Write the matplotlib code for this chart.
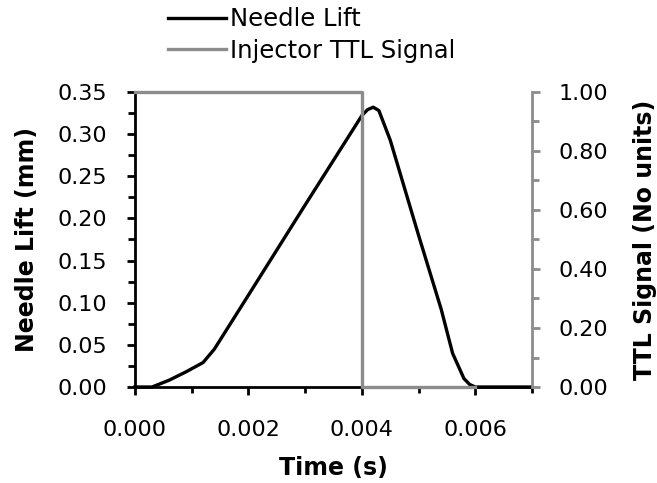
'''
Needle lift vs injector TTL signal
'''
import numpy as np
import matplotlib
matplotlib.use("Agg")
import matplotlib.pyplot as plt
from matplotlib.ticker import MultipleLocator, FormatStrFormatter

plt.rc('font', family='DejaVu Sans', size=16)

# needle lift trace (s, mm)
time_lift = [0.0, 0.0003, 0.0006, 0.0009, 0.0012, 0.0014, 0.0020, 0.0030,
             0.0040, 0.0041, 0.0042, 0.0043, 0.0045, 0.0050, 0.0054,
             0.0056, 0.0058, 0.0059, 0.0060, 0.0070]
needle_lift = [0.0, 0.0, 0.008, 0.018, 0.029, 0.045, 0.109, 0.216,
               0.322, 0.329, 0.332, 0.328, 0.293, 0.180, 0.092,
               0.040, 0.010, 0.003, 0.0, 0.0]

# injector TTL signal
time_ttl = [0.0, 0.004, 0.004, 0.006]
ttl_signal = [1.0, 1.0, 0.0, 0.0]

grey = '#8c8c8c'

fig = plt.figure(figsize=(6.57, 4.83), dpi=100)
ax = fig.add_axes([135/657, 1-387/483, 397/657, 295/483])
ax2 = ax.twinx()

l1, = ax.plot(time_lift, needle_lift, color='black', lw=2.4, clip_on=False,
              label='Needle Lift')
l2, = ax2.plot(time_ttl, ttl_signal, color=grey, lw=2.4, clip_on=False,
               label='Injector TTL Signal')

ax.set_xlim(0, 0.007)
ax.set_ylim(0, 0.35)
ax2.set_ylim(0, 1.0)

ax.xaxis.set_major_locator(MultipleLocator(0.002))
ax.xaxis.set_minor_locator(MultipleLocator(0.001))
ax.xaxis.set_major_formatter(FormatStrFormatter('%.3f'))
ax.yaxis.set_major_locator(MultipleLocator(0.05))
ax.yaxis.set_minor_locator(MultipleLocator(0.025))
ax.yaxis.set_major_formatter(FormatStrFormatter('%.2f'))
ax2.yaxis.set_major_locator(MultipleLocator(0.2))
ax2.yaxis.set_minor_locator(MultipleLocator(0.1))
ax2.yaxis.set_major_formatter(FormatStrFormatter('%.2f'))

for s in ['top', 'right']:
    ax.spines[s].set_visible(False)
for s in ['top', 'left', 'bottom']:
    ax2.spines[s].set_visible(False)
ax.spines['left'].set_linewidth(2.0)
ax.spines['bottom'].set_linewidth(2.0)
ax2.spines['right'].set_linewidth(2.0)
ax2.spines['right'].set_color(grey)

ax.tick_params(axis='x', which='major', direction='out', length=6, width=2, pad=18)
ax.tick_params(axis='x', which='minor', direction='out', length=4, width=2)
ax.tick_params(axis='y', which='major', direction='out', length=6, width=2, pad=14)
ax.tick_params(axis='y', which='minor', direction='out', length=5, width=2)
ax2.tick_params(axis='y', which='major', direction='out', length=6, width=2,
                pad=13, color=grey)
ax2.tick_params(axis='y', which='minor', direction='out', length=5, width=2,
                color=grey)

ax.set_xlabel('Time (s)', fontweight='bold', fontsize=17)
ax.set_ylabel('Needle Lift (mm)', fontweight='bold', fontsize=17)
ax2.set_ylabel('TTL Signal (No units)', fontweight='bold', fontsize=17,
               rotation=90)
ax.xaxis.set_label_coords(0.5, -0.275)
ax.yaxis.set_label_coords(-0.272, 0.5)
ax2.yaxis.set_label_coords(1.285, 0.5)
ax.xaxis.label.set_va('center')
ax.yaxis.label.set_va('center')
ax2.yaxis.label.set_va('center')

fig.legend(handles=[l1, l2], loc='upper left', bbox_to_anchor=(158/657, 1.005),
           frameon=False, handlelength=2.4, handletextpad=0.15,
           labelspacing=0.3, borderaxespad=0.0, fontsize=17.5)

plt.savefig('out.png', dpi=100)
